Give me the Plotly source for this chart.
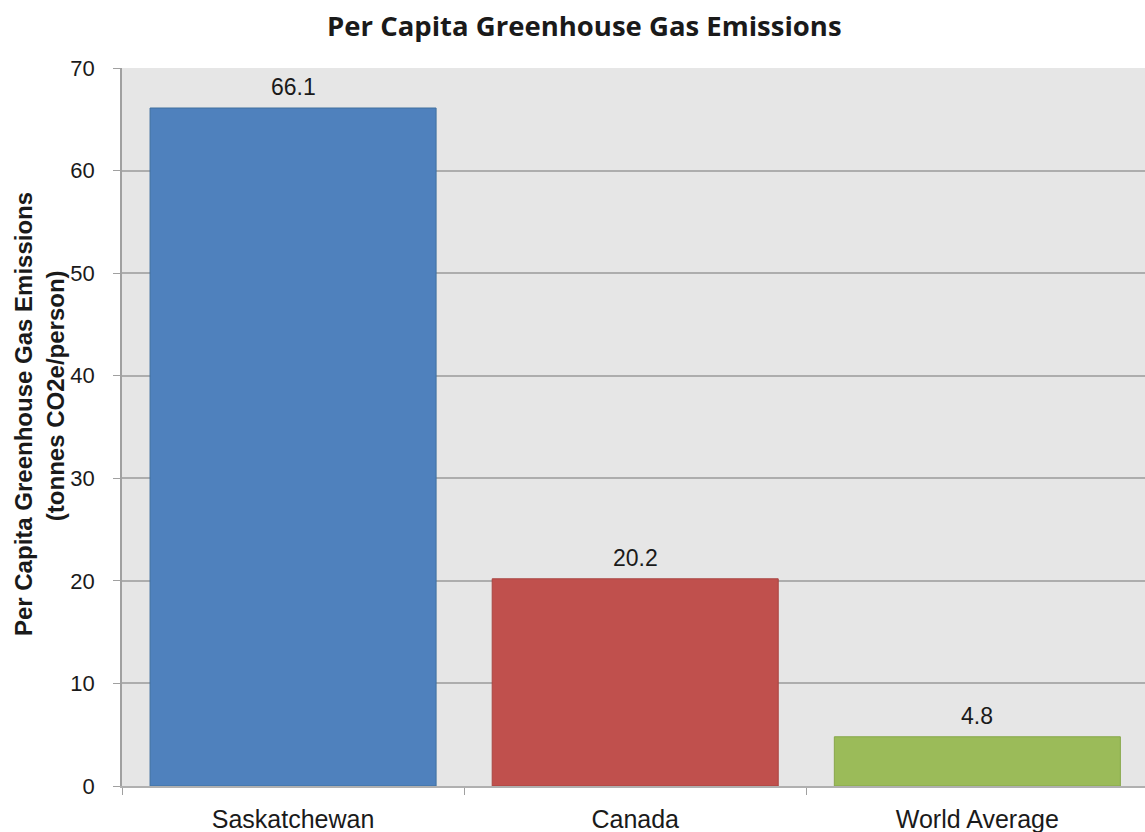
import plotly.graph_objects as go

# Per capita greenhouse gas emissions (tonnes CO2e per person)
regions = ["Saskatchewan", "Canada", "World Average"]
emissions = [66.1, 20.2, 4.8]
bar_colors = ["#4f81bd", "#c0504d", "#9bbb59"]
edge_colors = ["#41709f", "#a94440", "#87a74a"]
y_ticks = [0, 10, 20, 30, 40, 50, 60, 70]

SANS = "Liberation Sans, Arial, sans-serif"

fig = go.Figure()
fig.add_trace(go.Bar(
    x=regions,
    y=emissions,
    width=0.836,
    marker=dict(color=bar_colors, line=dict(color=edge_colors, width=1)),
    hoverinfo="skip",
))

# Value labels above each bar
for name, val in zip(regions, emissions):
    fig.add_annotation(
        x=name, y=val, text=f"{val:.1f}",
        xanchor="center", yanchor="bottom", yshift=6, showarrow=False,
        font=dict(family=SANS, size=23, color="#1a1a1a"),
    )

fig.update_layout(
    width=1145,
    height=832,
    margin=dict(l=122, r=0, t=68, b=46),
    paper_bgcolor="white",
    plot_bgcolor="#e6e6e6",
    showlegend=False,
    bargap=0.164,
)

fig.update_xaxes(
    range=[-0.5, 2.49],
    tickson="boundaries",
    ticks="outside",
    ticklen=7,
    tickcolor="#a0a0a0",
    showline=True,
    linecolor="#b0b0b0",
    linewidth=1.5,
    showgrid=False,
    ticklabelstandoff=10,
    tickfont=dict(family=SANS, size=25, color="#1a1a1a"),
)

fig.update_yaxes(
    range=[0, 70],
    tickvals=y_ticks,
    ticks="outside",
    ticklen=7,
    tickcolor="#a0a0a0",
    showline=True,
    linecolor="#a0a0a0",
    linewidth=1.5,
    showgrid=True,
    gridcolor="#adadad",
    gridwidth=1.5,
    zeroline=False,
    ticklabelstandoff=14,
    tickfont=dict(family=SANS, size=22, color="#1a1a1a"),
)

# Chart title
fig.add_annotation(
    text="<b>Per Capita Greenhouse Gas Emissions</b>",
    xref="paper", yref="paper", x=0.452, y=1.0, yshift=43,
    xanchor="center", yanchor="middle", showarrow=False,
    font=dict(family="Open Sans, sans-serif", size=27.5, color="#1a1a1a"),
)

# Two-line vertical axis title
fig.add_annotation(
    text="<b>Per Capita Greenhouse Gas Emissions</b>",
    xref="paper", yref="paper", x=0, xshift=-99, y=0.518,
    xanchor="center", yanchor="middle", textangle=-90, showarrow=False,
    font=dict(family=SANS, size=24, color="#1a1a1a"),
)
fig.add_annotation(
    text="<b>(tonnes CO2e/person)</b>",
    xref="paper", yref="paper", x=0, xshift=-67, y=0.543,
    xanchor="center", yanchor="middle", textangle=-90, showarrow=False,
    font=dict(family=SANS, size=24, color="#1a1a1a"),
)

fig.write_html("out.html")
